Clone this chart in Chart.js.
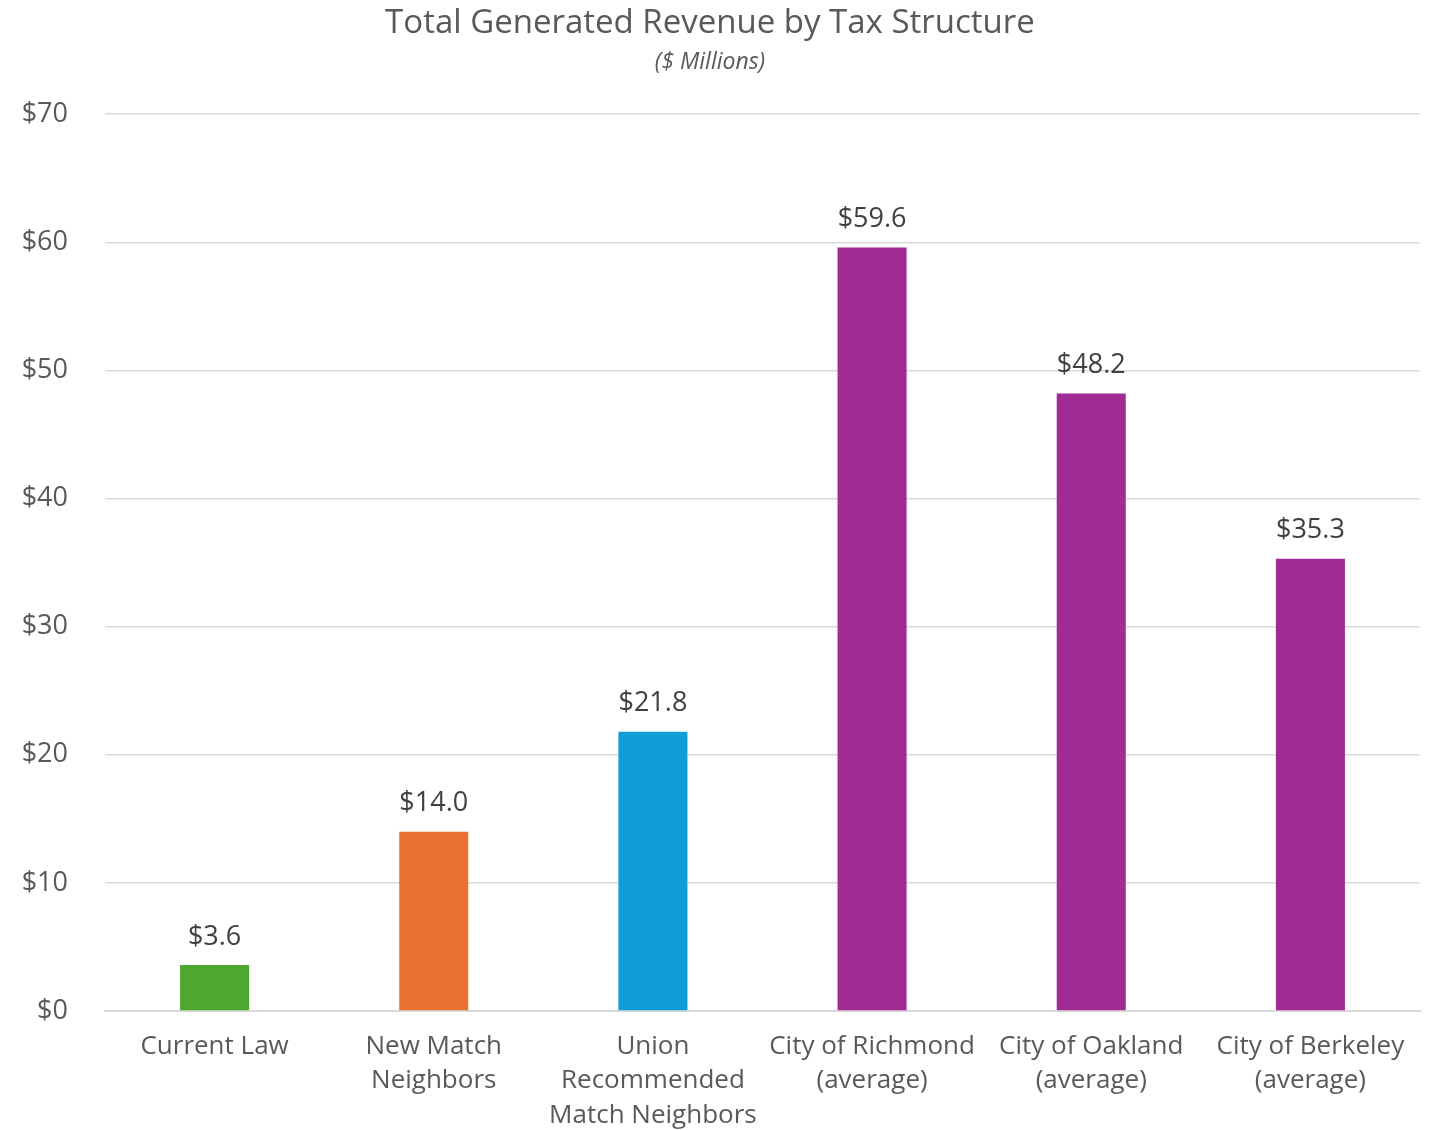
<!DOCTYPE html>
<html>
<head>
<meta charset="utf-8">
<script src="https://cdn.jsdelivr.net/npm/chart.js@4.4.0/dist/chart.umd.min.js"></script>
<style>
  html, body { margin: 0; padding: 0; background: #fff; }
  #wrap { width: 1430px; height: 1130px; position: relative; }
</style>
</head>
<body>
<div id="wrap"><canvas id="chart"></canvas></div>
<script>
const categories = [
  'Current Law',
  ['New Match', 'Neighbors'],
  ['Union', 'Recommended', 'Match Neighbors'],
  ['City of Richmond', '(average)'],
  ['City of Oakland', '(average)'],
  ['City of Berkeley', '(average)']
];
const revenue = [3.6, 14.0, 21.8, 59.6, 48.2, 35.3];
const barColors = ['#4EA72E', '#E97132', '#0F9ED5', '#A02B93', '#A02B93', '#A02B93'];
const yTicks = [0, 10, 20, 30, 40, 50, 60, 70];

const FONT = "'Open Sans', 'Liberation Sans', sans-serif";
const TEXT = '#595959';

// value labels above each bar
const barLabels = {
  id: 'barLabels',
  afterDatasetsDraw(chart) {
    const {ctx} = chart;
    const meta = chart.getDatasetMeta(0);
    ctx.save();
    ctx.font = '27px ' + FONT;
    ctx.fillStyle = '#404040';
    ctx.textAlign = 'center';
    ctx.textBaseline = 'middle';
    meta.data.forEach((bar, i) => {
      ctx.fillText('$' + revenue[i].toFixed(1), bar.x, bar.y - 28);
    });
    ctx.restore();
  }
};

const ctx = document.getElementById('chart').getContext('2d');
new Chart(ctx, {
  type: 'bar',
  data: {
    labels: categories,
    datasets: [{
      data: revenue,
      backgroundColor: barColors,
      borderWidth: 0,
      barPercentage: 0.63,
      categoryPercentage: 0.5
    }]
  },
  options: {
    responsive: true,
    maintainAspectRatio: false,
    animation: false,
    layout: { padding: { left: 0, right: 10, top: 4, bottom: 0 } },
    plugins: {
      legend: { display: false },
      tooltip: { enabled: false },
      title: {
        display: true,
        text: 'Total Generated Revenue by Tax Structure',
        color: TEXT,
        font: { family: FONT, size: 33, weight: 'normal' },
        padding: { top: 0, bottom: 5 }
      },
      subtitle: {
        display: true,
        text: '($ Millions)',
        color: TEXT,
        font: { family: FONT, size: 23, style: 'italic', weight: 'normal' },
        padding: { top: 0, bottom: 38 }
      }
    },
    scales: {
      x: {
        grid: { display: false, drawTicks: false },
        border: { display: true, color: '#D9D9D9', width: 2 },
        afterFit(axis) { axis.height = 119; },
        ticks: {
          color: TEXT,
          font: { family: FONT, size: 26, lineHeight: 1.33 },
          padding: 18,
          maxRotation: 0,
          autoSkip: false
        }
      },
      y: {
        min: 0,
        max: 70,
        afterBuildTicks(axis) {
          axis.ticks = yTicks.map(v => ({ value: v }));
        },
        afterFit(axis) { axis.width = 105; },
        grid: { color: '#D9D9D9', lineWidth: 1.5, drawTicks: false },
        border: { display: false },
        ticks: {
          color: TEXT,
          font: { family: FONT, size: 27 },
          padding: 37,
          callback: v => '$' + v
        }
      }
    }
  },
  plugins: [barLabels]
});
</script>
</body>
</html>
